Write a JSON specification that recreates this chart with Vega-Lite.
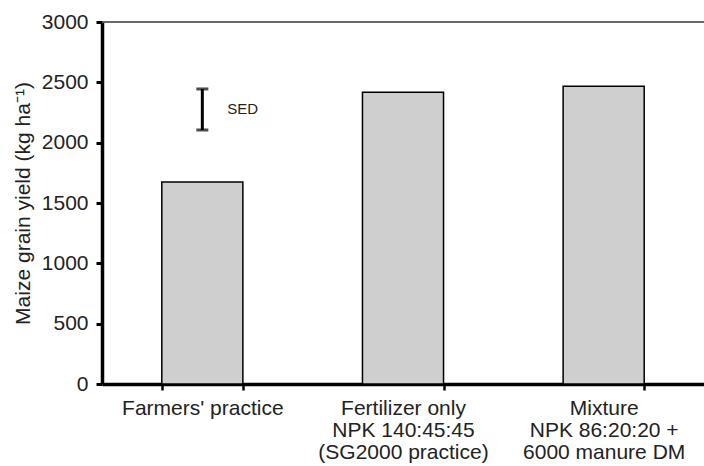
{
  "$schema": "https://vega.github.io/schema/vega-lite/v6.json",
  "width": 602,
  "height": 362,
  "autosize": "none",
  "padding": {"left": 102, "top": 22, "right": 0, "bottom": 82},
  "background": "white",
  "config": {
    "view": {"stroke": null},
    "font": "Liberation Sans",
    "axis": {"grid": false, "labelFont": "Liberation Sans", "titleFont": "Liberation Sans", "labelColor": "#222", "titleColor": "#222"}
  },
  "data": {
    "values": [
      {"treatment": "Farmers' practice", "yield": 1674, "sed_low": 2105, "sed_high": 2445, "sed_mid": 2279, "sed_label": "SED"},
      {"treatment": "Fertilizer only|NPK 140:45:45|(SG2000 practice)", "yield": 2418},
      {"treatment": "Mixture|NPK 86:20:20 +|6000 manure DM", "yield": 2468}
    ]
  },
  "encoding": {
    "x": {
      "field": "treatment",
      "type": "nominal",
      "sort": null,
      "scale": {"paddingInner": 0.596, "paddingOuter": 0.298},
      "axis": {
        "title": null,
        "labelAngle": 0,
        "labelExpr": "split(datum.label, '|')",
        "labelFontSize": 21,
        "labelLineHeight": 22,
        "labelPadding": 7,
        "labelLimit": 300,
        "domainColor": "black",
        "domainWidth": 3.5,
        "tickBand": "extent",
        "tickColor": "black",
        "tickWidth": 2.5,
        "tickSize": 6
      }
    }
  },
  "layer": [
    {
      "mark": {"type": "rule", "color": "#555", "strokeWidth": 1},
      "encoding": {"y": {"datum": 3000, "type": "quantitative"}, "x": {"value": 0}, "x2": {"value": 602}}
    },
    {
      "mark": {"type": "bar", "fill": "#cfcfcf", "stroke": "black", "strokeWidth": 1.5},
      "encoding": {
        "y": {
          "field": "yield",
          "type": "quantitative",
          "scale": {"domain": [0, 3000]},
          "axis": {
            "title": "Maize grain yield (kg ha\u207b\u00b9)",
            "titleFontSize": 21,
            "titleFontWeight": "normal",
            "titlePadding": 8,
            "values": [0, 500, 1000, 1500, 2000, 2500, 3000],
            "format": "d",
            "labelFontSize": 21,
            "labelPadding": 8,
            "domainColor": "black",
            "domainWidth": 3.5,
            "tickColor": "black",
            "tickWidth": 3,
            "tickSize": 6
          }
        }
      }
    },
    {
      "mark": {"type": "rule", "color": "black", "strokeWidth": 3},
      "encoding": {"y": {"field": "sed_low", "type": "quantitative"}, "y2": {"field": "sed_high"}}
    },
    {
      "mark": {"type": "tick", "color": "black", "thickness": 3, "size": 12},
      "encoding": {"y": {"field": "sed_low", "type": "quantitative"}}
    },
    {
      "mark": {"type": "tick", "color": "black", "thickness": 3, "size": 12},
      "encoding": {"y": {"field": "sed_high", "type": "quantitative"}}
    },
    {
      "mark": {"type": "text", "align": "left", "baseline": "middle", "dx": 25, "fontSize": 15, "color": "#222"},
      "encoding": {"y": {"field": "sed_mid", "type": "quantitative"}, "text": {"field": "sed_label"}}
    }
  ]
}
